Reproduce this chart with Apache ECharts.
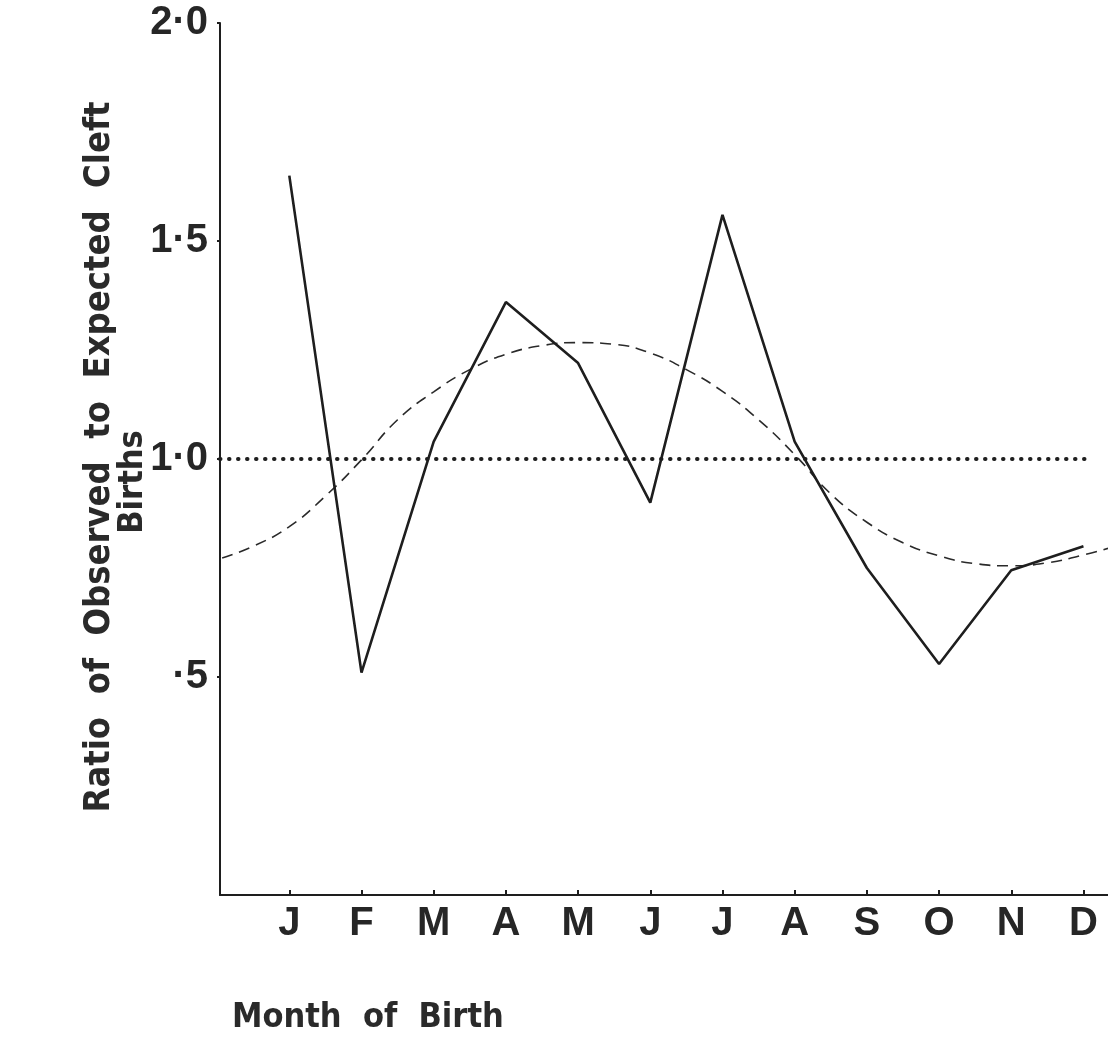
<!DOCTYPE html>
<html>
<head>
<meta charset="utf-8">
<script src="https://cdn.jsdelivr.net/npm/echarts@6/dist/echarts.min.js"></script>
<style>
html,body{margin:0;padding:0;background:#fff;}
#c{width:1108px;height:1039px;}
</style>
</head>
<body>
<div id="c"></div>
<script>
// Month positions (1..12) and labels
const months = [1,2,3,4,5,6,7,8,9,10,11,12];
const monthLabels = ['J','F','M','A','M','J','J','A','S','O','N','D'];
// Observed / expected ratio
const ratio = [1.65, 0.51, 1.04, 1.36, 1.22, 0.90, 1.56, 1.04, 0.75, 0.53, 0.745, 0.80];
// Fitted seasonal curve (dashed): [month position, ratio]
const curveX = [0.07, 0.5, 1.0, 1.5, 2.0, 2.5, 3.0, 3.5, 4.0, 4.5, 5.0, 5.5, 6.0, 6.5, 7.0, 7.5, 8.0, 8.5, 9.0, 9.5, 10.0, 10.5, 11.0, 11.5, 12.0, 12.34];
const curveY = [0.773, 0.800, 0.845, 0.915, 0.998, 1.090, 1.154, 1.205, 1.240, 1.260, 1.267, 1.263, 1.243, 1.205, 1.155, 1.090, 1.010, 0.920, 0.855, 0.808, 0.778, 0.760, 0.755, 0.762, 0.780, 0.795];
// Reference line at ratio 1.0 (dotted)
const refX = [0.04, 12.05];
const refY = [1.0, 1.0];
// Y tick labels
const yTickValues = [0.5, 1.0, 1.5, 2.0];
const yTickLabels = ['·5', '1·0', '1·5', '2·0'];

const chart = echarts.init(document.getElementById('c'));
const ink = '#1e1e1e';
chart.setOption({
  backgroundColor: '#ffffff',
  animation: false,
  grid: {left: 220, top: 23, width: 888, height: 872, containLabel: false},
  xAxis: {
    type: 'value', min: 0.04, max: 12.34,
    axisLine: {show: true, lineStyle: {color: ink, width: 2}},
    axisTick: {show: true, inside: true, length: 5, lineStyle: {color: ink, width: 2}, customValues: months},
    axisLabel: {
      customValues: months, margin: 9, color: '#262626',
      fontFamily: 'Liberation Sans', fontWeight: 'bold', fontSize: 40,
      formatter: v => monthLabels[Math.round(v) - 1] || ''
    },
    splitLine: {show: false}
  },
  yAxis: {
    type: 'value', min: 0, max: 2, interval: 0.5,
    axisLine: {show: true, lineStyle: {color: ink, width: 2}},
    axisTick: {show: true, inside: false, length: 3, lineStyle: {color: ink, width: 2}, customValues: yTickValues},
    axisLabel: {
      customValues: yTickValues, margin: 12, color: '#262626',
      fontFamily: 'Liberation Sans', fontWeight: 'bold', fontSize: 40,
      formatter: v => { const i = yTickValues.findIndex(t => Math.abs(t - v) < 1e-6); return i >= 0 ? yTickLabels[i] : ''; }
    },
    splitLine: {show: false}
  },
  series: [
    {
      type: 'line', data: months.map((m, i) => [m, ratio[i]]),
      symbol: 'none', lineStyle: {color: ink, width: 2.6}, z: 3
    },
    {
      type: 'line', data: curveX.map((x, i) => [x, curveY[i]]), smooth: true,
      symbol: 'none', lineStyle: {color: '#2a2a2a', width: 1.6, type: [11, 7]}, z: 2
    },
    {
      type: 'line', data: refX.map((x, i) => [x, refY[i]]),
      symbol: 'none', lineStyle: {color: ink, width: 4, type: [0.5, 8.5], cap: 'round'}, z: 1
    }
  ],
  graphic: [
    {
      type: 'text', left: 232, top: 1001,
      style: {text: 'Month  of  Birth', fontFamily: 'DejaVu Sans Condensed', fontWeight: 'bold', fontSize: 34, fill: '#2a2a2a'}
    },
    {
      type: 'text', x: 100, y: 457, rotation: Math.PI / 2,
      style: {text: 'Ratio  of  Observed  to  Expected  Cleft', fontFamily: 'DejaVu Sans Condensed', fontWeight: 'bold', fontSize: 36, fill: '#2a2a2a', align: 'center', verticalAlign: 'middle'}
    },
    {
      type: 'text', x: 133, y: 482, rotation: Math.PI / 2,
      style: {text: 'Births', fontFamily: 'DejaVu Sans Condensed', fontWeight: 'bold', fontSize: 34, fill: '#2a2a2a', align: 'center', verticalAlign: 'middle'}
    }
  ]
});
</script>
</body>
</html>
